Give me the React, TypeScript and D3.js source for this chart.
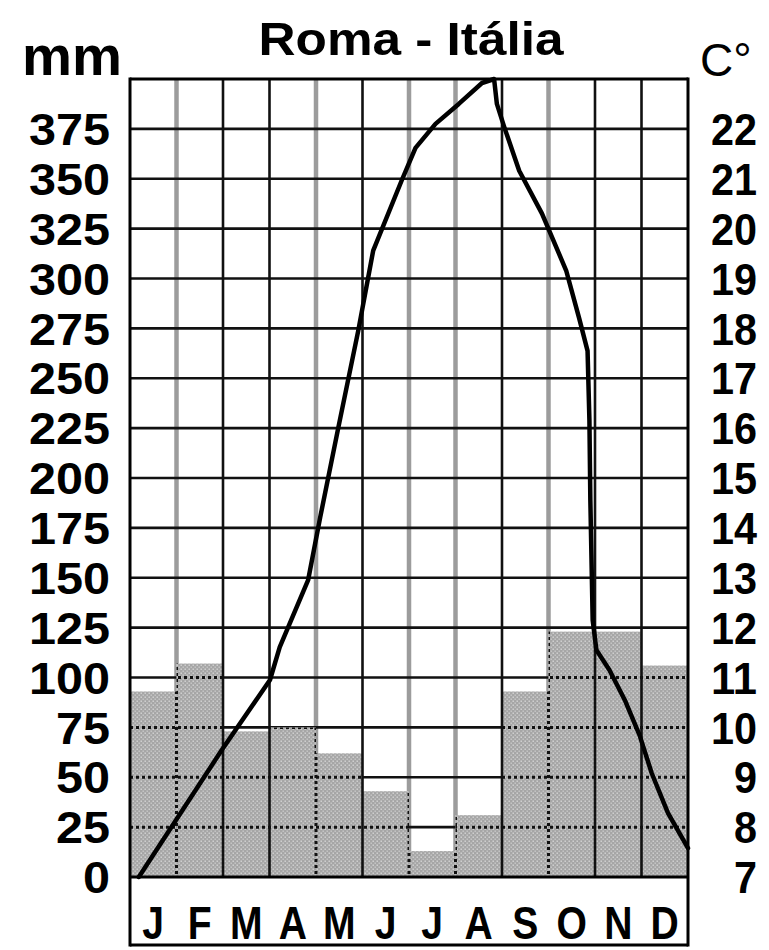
import React from "react";
import * as d3 from "d3";

// ---- data ----
const title = "Roma - Itália";
const months = ["J", "F", "M", "A", "M", "J", "J", "A", "S", "O", "N", "D"];
const precipMM = [93, 107, 73, 75, 62, 43, 13, 31, 93, 123, 123, 106];
const mmTicks = [0, 25, 50, 75, 100, 125, 150, 175, 200, 225, 250, 275, 300, 325, 350, 375];
const tempTicks = [7, 8, 9, 10, 11, 12, 13, 14, 15, 16, 17, 18, 19, 20, 21, 22];
// temperature curve: position in months (0 = start of Jan) and °C
const tempPos = [0.19, 1.97, 3.01, 3.22, 3.83, 4.09, 4.48, 4.91, 5.23, 5.84, 6.14, 6.57, 7.07, 7.57, 7.83, 7.89, 8.04, 8.37, 8.86, 9.38, 9.66, 9.84, 9.88, 9.9, 9.95, 10.03, 10.31, 10.64, 10.96, 11.22, 11.57, 12.0];
const tempC = [7.0, 9.54, 10.95, 11.61, 12.95, 14.21, 16.01, 17.96, 19.56, 20.96, 21.62, 22.1, 22.5, 22.92, 23.0, 22.5, 22.06, 21.16, 20.3, 19.16, 18.2, 17.55, 16.15, 14.55, 12.15, 11.55, 11.15, 10.55, 9.84, 9.08, 8.28, 7.58];
// boundary line style (between months): true = dark line, false = light line
const darkBoundary = [false, true, true, false, true, false, false, true, false, true, true];

export default function App() {
  const W = 769, H = 950;
  const left = 130, right = 688, top = 79, base = 877, bottom = 945;
  const x = d3.scaleLinear().domain([0, 12]).range([left, right]);
  const y = d3.scaleLinear().domain([0, 400]).range([base, top]);
  const yT = d3.scaleLinear().domain([7, 23]).range([base, top]);

  const line = d3
    .line<number>()
    .x((_, i) => x(tempPos[i]))
    .y((d) => yT(d))
    .curve(d3.curveLinear);

  const hLines = d3.range(25, 400, 25);
  const boundaries = d3.range(1, 12);
  const font = "'Liberation Sans', Arial, sans-serif";

  const bars = precipMM.map((v, i) => (
    <rect key={i} x={x(i)} y={y(v)} width={x(i + 1) - x(i)} height={base - y(v)} />
  ));

  return (
    <svg
      width={W}
      height={H}
      style={{ position: "absolute", left: 0, top: 0, background: "#fff" }}
    >
      <defs>
        <pattern id="stip" width={4} height={4} patternUnits="userSpaceOnUse">
          <rect width={4} height={4} fill="#a6a6a6" />
          <rect x={0.5} y={0.5} width={1.4} height={1.4} fill="#d8d8d8" />
          <rect x={2.5} y={2.5} width={1.4} height={1.4} fill="#cacaca" />
        </pattern>
        <clipPath id="barsClip">{bars}</clipPath>
        <mask id="outsideBars">
          <rect x={0} y={0} width={W} height={H} fill="#fff" />
          <g fill="#000">{bars}</g>
        </mask>
      </defs>
      <rect x={0} y={0} width={W} height={H} fill="#fff" />

      {/* bars */}
      <g fill="url(#stip)">{bars}</g>

      {/* grid outside bars: solid */}
      <g mask="url(#outsideBars)">
        {boundaries
          .filter((b) => !darkBoundary[b - 1])
          .map((b) => (
            <line key={"gv" + b} x1={x(b)} x2={x(b)} y1={top} y2={base} stroke="#9c9c9c" strokeWidth={4.5} />
          ))}
        {hLines.map((v) => (
          <line key={"h" + v} x1={left} x2={right} y1={y(v)} y2={y(v)} stroke="#111" strokeWidth={2.6} />
        ))}
      </g>

      {/* grid inside bars: dotted */}
      <g clipPath="url(#barsClip)">
        {boundaries
          .filter((b) => !darkBoundary[b - 1])
          .map((b) => (
            <line key={"dv" + b} x1={x(b)} x2={x(b)} y1={top} y2={base} stroke="#111" strokeWidth={3} strokeDasharray="3 3" />
          ))}
        {hLines.map((v) => (
          <line key={"dh" + v} x1={left} x2={right} y1={y(v)} y2={y(v)} stroke="#111" strokeWidth={3} strokeDasharray="3 3" />
        ))}
      </g>

      {/* dark month boundaries */}
      {boundaries
        .filter((b) => darkBoundary[b - 1])
        .map((b) => (
          <line key={"bv" + b} x1={x(b)} x2={x(b)} y1={top} y2={base} stroke="#111" strokeWidth={2.6} />
        ))}

      {/* frame */}
      <line x1={left} x2={right} y1={top} y2={top} stroke="#000" strokeWidth={3} />
      <line x1={left} x2={right} y1={base} y2={base} stroke="#000" strokeWidth={3} />
      <line x1={left} x2={left} y1={top - 1.5} y2={bottom + 1.5} stroke="#000" strokeWidth={3} />
      <line x1={right} x2={right} y1={top - 1.5} y2={bottom + 1.5} stroke="#000" strokeWidth={3} />
      <line x1={left} x2={right} y1={bottom} y2={bottom} stroke="#000" strokeWidth={3} />

      {/* temperature line */}
      <path d={line(tempC) || ""} fill="none" stroke="#000" strokeWidth={4.5} strokeLinejoin="round" strokeLinecap="round" />

      {/* month labels */}
      {months.map((m, i) => (
        <text
          key={"m" + i}
          x={(x(i) + x(i + 1)) / 2}
          y={939}
          textAnchor="middle"
          fontFamily={font}
          fontWeight="bold"
          fontSize={46}
          fill="#000"
          transform={`translate(${(x(i) + x(i + 1)) / 2},0) scale(0.85,1) translate(${-(x(i) + x(i + 1)) / 2},0)`}
        >
          {m}
        </text>
      ))}

      {/* left axis labels */}
      {mmTicks.map((v) => (
        <text
          key={"l" + v}
          x={110}
          y={y(v)}
          dy="0.36em"
          textAnchor="end"
          fontFamily={font}
          fontWeight="bold"
          fontSize={45}
          fill="#000"
          textLength={String(v).length * 27}
          lengthAdjust="spacingAndGlyphs"
        >
          {v}
        </text>
      ))}

      {/* right axis labels */}
      {tempTicks.map((v) => (
        <text
          key={"r" + v}
          x={757}
          y={yT(v)}
          dy="0.36em"
          textAnchor="end"
          fontFamily={font}
          fontWeight="bold"
          fontSize={45}
          fill="#000"
          textLength={String(v).length * 23}
          lengthAdjust="spacingAndGlyphs"
        >
          {v}
        </text>
      ))}

      {/* titles */}
      <text x={411} y={55} textAnchor="middle" fontFamily={font} fontWeight="bold" fontSize={46} fill="#000" textLength={305} lengthAdjust="spacingAndGlyphs">
        {title}
      </text>
      <text x={22} y={75} fontFamily={font} fontWeight="bold" fontSize={56} fill="#000" textLength={100} lengthAdjust="spacingAndGlyphs">
        mm
      </text>
      <text x={700} y={76} fontFamily={font} fontSize={46} fill="#000">
        C°
      </text>
    </svg>
  );
}
